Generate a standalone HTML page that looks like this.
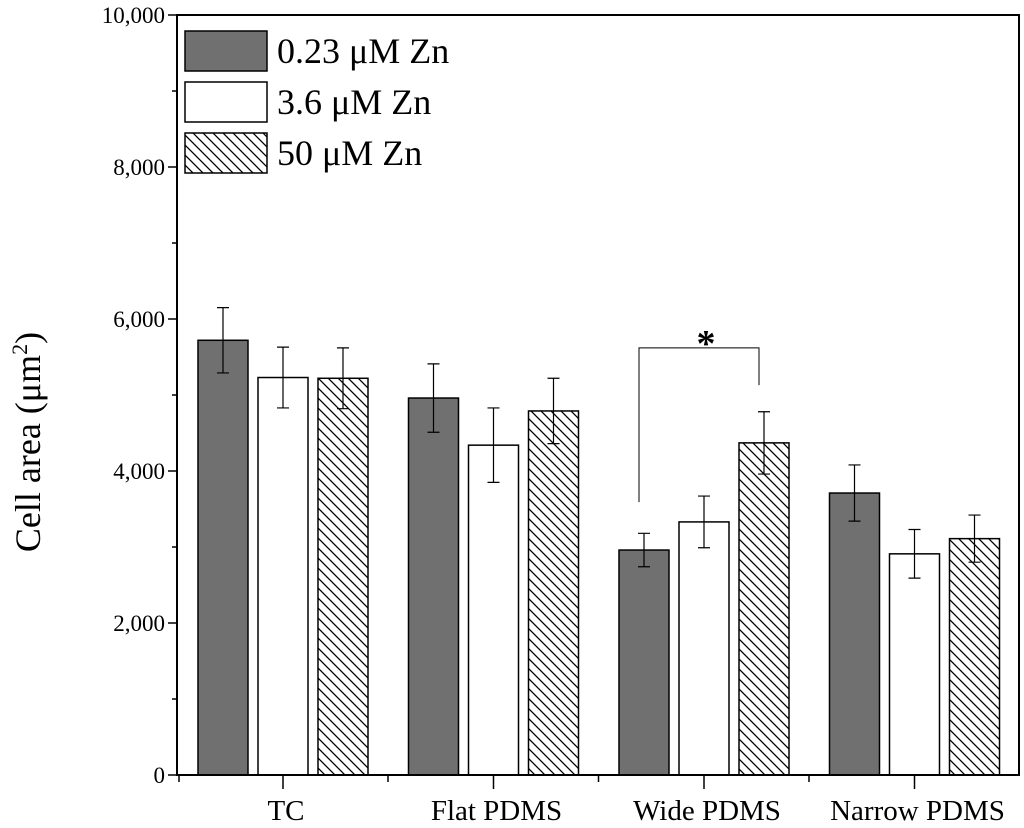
<!DOCTYPE html>
<html><head><meta charset="utf-8"><style>
html,body{margin:0;padding:0;background:#fff;}
svg{display:block;font-family:"Liberation Serif",serif;}
</style></head><body>
<svg id="chart" width="1024" height="828" viewBox="0 0 1024 828" xmlns="http://www.w3.org/2000/svg">
<defs>
<pattern id="hatch" patternUnits="userSpaceOnUse" width="10" height="10">
<path d="M-5,-5 L15,15 M-5,5 L5,15 M5,-5 L15,5" stroke="#000" stroke-width="1.3"/>
</pattern>
</defs>
<g id="marks"></g>
<g id="axes"></g>
</svg>
<script>
const categories = ["TC", "Flat PDMS", "Wide PDMS", "Narrow PDMS"];
const seriesNames = ["0.23 \u03bcM Zn", "3.6 \u03bcM Zn", "50 \u03bcM Zn"];
const lowZn = [5720, 4960, 2960, 3710];
const midZn = [5230, 4340, 3330, 2910];
const highZn = [5220, 4790, 4370, 3110];
const lowErr = [430, 450, 220, 370];
const midErr = [400, 490, 340, 320];
const highErr = [400, 430, 410, 310];
const yTicks = [0, 2000, 4000, 6000, 8000, 10000];
const yTickLabels = ["0", "2,000", "4,000", "6,000", "8,000", "10,000"];

const NS = "http://www.w3.org/2000/svg";
const X0 = 177, X1 = 1019, Y0 = 775, Y1 = 15;
const yS = v => Y0 - (v / 10000) * (Y0 - Y1);
const groupCenter = i => 283 + i * 210.5;
const barW = 50, barGap = 60;
const marks = document.getElementById('marks');
const axes = document.getElementById('axes');
function mk(tag, attrs, parent) {
  const e = document.createElementNS(NS, tag);
  for (const k in attrs) e.setAttribute(k, attrs[k]);
  parent.appendChild(e);
  return e;
}
const series = [lowZn, midZn, highZn];
const errs = [lowErr, midErr, highErr];
const fills = ["#707070", "#ffffff", "url(#hatch)"];
const keys = ["low", "mid", "high"];
series.forEach((vals, s) => {
  vals.forEach((v, i) => {
    const cx = groupCenter(i) + (s - 1) * barGap;
    const r = mk('rect', {x: cx - barW / 2, y: yS(v), width: barW, height: Y0 - yS(v), fill: fills[s], stroke: '#000', 'stroke-width': 1.5}, marks);
    
    
    const e = errs[s][i];
    const g = mk('path', {d: `M${cx},${yS(v + e)} V${yS(v - e)} M${cx - 6},${yS(v + e)} H${cx + 6} M${cx - 6},${yS(v - e)} H${cx + 6}`, stroke: '#000', 'stroke-width': 1.2, fill: 'none'}, marks);
    
    
  });
});
{
  const lx = groupCenter(2) - barGap - 5, rx = groupCenter(2) + barGap - 5;
  const top = yS(5620);
  const br = mk('path', {d: `M${lx},${yS(3590)} V${top} H${rx} V${yS(5130)}`, stroke: '#000', 'stroke-width': 1, fill: 'none'}, marks);
  
  
  const st = mk('text', {x: (lx + rx) / 2 + 7, y: top + 8, 'font-size': 38, 'font-weight': 'bold', 'text-anchor': 'middle'}, marks);
  st.textContent = '*';
  
  
}
const fr = mk('rect', {x: X0, y: Y1, width: X1 - X0, height: Y0 - Y1, fill: 'none', stroke: '#000', 'stroke-width': 2}, axes);


yTicks.forEach((v, i) => {
  mk('line', {x1: X0 - 9, x2: X0, y1: yS(v), y2: yS(v), stroke: '#000', 'stroke-width': 1.5}, axes);
  if (i < yTicks.length - 1) {
    const m = v + 1000;
    mk('line', {x1: X0 - 5, x2: X0, y1: yS(m), y2: yS(m), stroke: '#000', 'stroke-width': 1.5}, axes);
  }
  const t = mk('text', {x: X0 - 12, y: yS(v) + 8, 'font-size': 23, 'text-anchor': 'end'}, axes);
  t.textContent = yTickLabels[i];
  
  
});
categories.forEach((c, i) => {
  const cx = groupCenter(i);
  mk('line', {x1: cx, x2: cx, y1: Y0, y2: Y0 + 14, stroke: '#000', 'stroke-width': 1.5}, axes);
  const mx = cx + 105;
  if (i < categories.length - 1) mk('line', {x1: mx, x2: mx, y1: Y0, y2: Y0 + 7, stroke: '#000', 'stroke-width': 1.5}, axes);
  const t = mk('text', {x: cx + 3, y: 820, 'font-size': 29, 'text-anchor': 'middle'}, axes);
  t.textContent = c;
  
  
});
mk('line', {x1: X0 + 2, x2: X0 + 2, y1: Y0, y2: Y0 + 7, stroke: '#000', 'stroke-width': 1.5}, axes);
const yt = mk('text', {transform: 'translate(40,442) rotate(-90)', 'font-size': 36, 'text-anchor': 'middle'}, axes);
yt.innerHTML = 'Cell area (\u03bcm<tspan dy="-13" font-size="22">2</tspan><tspan dy="13">)</tspan>';


seriesNames.forEach((n, s) => {
  const y = 31 + s * 51;
  const r = mk('rect', {x: 185, y: y, width: 82, height: 40, fill: fills[s], stroke: '#000', 'stroke-width': 1.5}, axes);
  
  
  const t = mk('text', {x: 277, y: y + 32, 'font-size': 36}, axes);
  t.textContent = n;
  
  
});
</script>
</body></html>
